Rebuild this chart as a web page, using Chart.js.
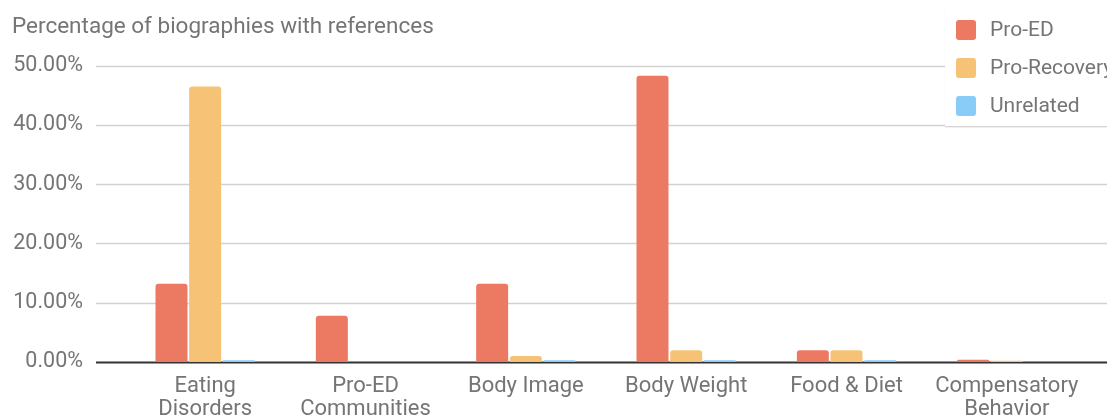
<!DOCTYPE html>
<html>
<head>
<meta charset="utf-8">
<script src="https://cdn.jsdelivr.net/npm/chart.js@4/dist/chart.umd.min.js"></script>
<style>
  body { margin: 0; background: #fff; overflow: hidden; font-family: Roboto, "Noto Sans", sans-serif; }
  #wrap { position: relative; width: 1107px; height: 417px; }
  #legend {
    position: absolute; left: 945px; top: 0; width: 162px; height: 126px;
    background: #fff; border-bottom: 1px solid #d6d6d6; overflow: hidden;
    box-shadow: 0 1px 1px rgba(0,0,0,0.06);
  }
  .item { position: absolute; left: 11px; height: 20px; white-space: nowrap; }
  .sw { position: absolute; left: 0; top: 0; width: 20px; height: 20px; border-radius: 3px; }
  .lbl { position: absolute; left: 34px; top: -4px; font-size: 21px; color: #757575; line-height: 26px; }
</style>
</head>
<body>
<div id="wrap">
  <canvas id="chart"></canvas>
  <div id="legend"></div>
</div>
<script>
const categories = [["Eating", "Disorders"], ["Pro-ED", "Communities"], "Body Image", "Body Weight", "Food & Diet", ["Compensatory", "Behavior"]];
const seriesNames = ["Pro-ED", "Pro-Recovery", "Unrelated"];
const proEd = [13.2, 7.8, 13.2, 48.3, 2.0, 0.4];
const proRecovery = [46.5, 0, 1.0, 2.0, 2.0, 0.2];
const unrelated = [0.3, 0, 0.3, 0.3, 0.3, 0];
const yMin = 0, yMax = 50, yStep = 10;

const colors = ["#EC7962", "#F6C376", "#88CCF7"];
const textColor = "#757575";

// horizontal guide lines run past the plot edges, plus the dark zero line
const gridPlugin = {
  id: "gridLines",
  beforeDatasetsDraw(chart) {
    const { ctx, chartArea, scales } = chart;
    const y = scales.y;
    const x0 = chartArea.left - 29, x1 = chart.width;
    ctx.save();
    y.ticks.forEach(t => {
      const py = Math.round(y.getPixelForValue(t.value)) + 0.5;
      ctx.beginPath();
      if (t.value === 0) { ctx.strokeStyle = "#333"; ctx.lineWidth = 2; }
      else { ctx.strokeStyle = "#d2d2d2"; ctx.lineWidth = 1.5; }
      ctx.moveTo(x0, py); ctx.lineTo(x1, py); ctx.stroke();
    });
    ctx.restore();
  }
};

const sets = [proEd, proRecovery, unrelated].map((d, i) => ({
  label: seriesNames[i],
  data: d,
  backgroundColor: colors[i],
  borderRadius: { topLeft: 3, topRight: 3 },
  borderSkipped: "bottom",
  categoryPercentage: 0.63,
  barPercentage: 0.95
}));

new Chart(document.getElementById("chart"), {
  type: "bar",
  data: { labels: categories, datasets: sets },
  options: {
    responsive: true,
    maintainAspectRatio: false,
    animation: false,
    layout: { padding: { left: 12, right: 20, top: 0, bottom: 0 } },
    plugins: {
      legend: { display: false },
      tooltip: { enabled: false },
      title: {
        display: true,
        text: "Percentage of biographies with references",
        align: "start",
        color: textColor,
        font: { family: "Roboto", size: 22.5, weight: "normal" },
        padding: { top: 14, bottom: 24.7 }
      }
    },
    scales: {
      x: {
        grid: { display: false },
        border: { display: false },
        ticks: {
          color: textColor,
          font: { family: "Roboto", size: 22, lineHeight: 1.06 },
          padding: 5,
          maxRotation: 0,
          autoSkip: false
        },
        afterFit(scale) { scale.height = 55; }
      },
      y: {
        min: yMin, max: yMax,
        grid: { display: false },
        border: { display: false },
        ticks: {
          stepSize: yStep,
          color: textColor,
          font: { family: "Roboto", size: 21.5 },
          padding: 34,
          callback: v => v.toFixed(2) + "%"
        },
        afterFit(scale) { scale.width = 113; }
      }
    }
  },
  plugins: [gridPlugin]
});

// legend box in the top right corner
const legend = document.getElementById("legend");
seriesNames.forEach((name, i) => {
  const item = document.createElement("div");
  item.className = "item";
  item.style.top = (20 + i * 38) + "px";
  item.innerHTML = '<div class="sw" style="background:' + colors[i] + '"></div><div class="lbl">' + name + '</div>';
  legend.appendChild(item);
});
</script>
</body>
</html>
